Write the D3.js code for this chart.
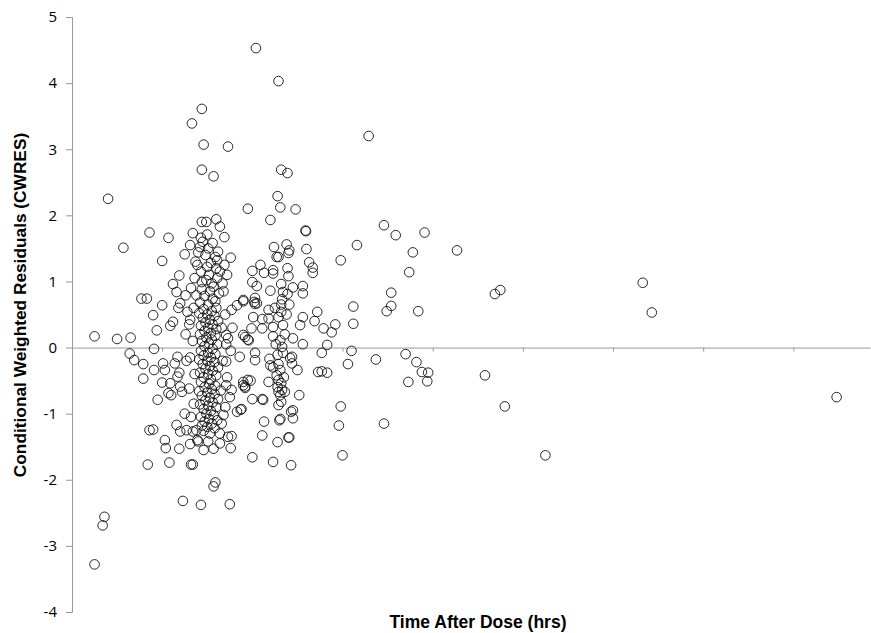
<!DOCTYPE html>
<html>
<head>
<meta charset="utf-8">
<script src="https://cdn.jsdelivr.net/npm/d3@7"></script>
<style>
  html, body { margin: 0; padding: 0; background: #fff; }
  svg { display: block; }
</style>
</head>
<body>
<svg id="chart"></svg>
<script>
// [time after dose (hrs), CWRES]
const earlyPoints = [
  [2.5, 0.17], [2.5, -3.28], [3.4, -2.69], [3.6, -2.56], [4.0, 2.25], [5.0, 0.13],
  [5.7, 1.51], [6.5, 0.15], [6.4, -0.09], [6.9, -0.19], [7.9, -0.25], [7.9, -0.47],
  [7.7, 0.74], [8.3, 0.74], [8.6, 1.74], [9.1, -0.34], [9.0, 0.49], [9.4, 0.26],
  [9.5, -0.79], [8.6, -1.25], [9.0, -1.24], [8.4, -1.77], [10.0, 0.64], [10.0, 1.31],
  [10.7, 1.66], [10.1, -0.24], [10.3, -0.34], [10.0, -0.53], [10.9, -0.54], [10.7, -0.69],
  [11.0, -0.72], [10.3, -1.4], [10.4, -1.52], [10.8, -1.74], [10.9, 0.33], [11.2, 0.39],
  [11.2, 0.96], [11.6, 0.84], [11.9, 1.09], [11.7, -0.14], [11.4, -0.24], [11.7, -0.44],
  [11.9, -0.38], [12.0, -0.59], [12.2, -0.67], [11.6, -1.17], [12.0, -1.27], [11.9, -1.53],
  [12.3, -2.32], [12.0, 0.67], [11.8, 0.6], [12.5, 1.41], [9.1, -0.02]
];

const mainCluster = [
  [13.3, 3.39], [14.4, 3.61], [14.6, 3.07], [17.3, 3.04], [14.4, 2.69], [15.7, 2.59],
  [14.4, 1.9], [14.9, 1.9], [16.0, 1.94], [16.4, 1.83], [13.4, 1.73], [14.3, 1.66],
  [15.0, 1.71], [16.9, 1.67], [13.1, 1.55], [14.2, 1.52], [15.1, 1.5], [14.0, 1.44],
  [15.9, 1.37], [17.6, 1.36], [16.1, 1.32], [13.9, 1.25], [15.0, 1.22], [16.4, 1.15],
  [17.2, 1.1], [13.6, 1.05], [14.4, 0.99], [15.5, 0.97], [16.7, 0.97], [12.6, 0.79],
  [13.8, 0.79], [15.6, 0.74], [17.7, 0.57], [18.3, 0.64], [19.0, 0.7], [12.8, 0.54],
  [13.1, 0.42],
  [14.5, 1.6], [15.6, 1.58], [16.2, 1.45], [14.8, 1.4], [15.4, 1.28], [16.0, 1.2],
  [14.3, 1.15], [15.2, 1.1], [16.1, 1.05], [14.9, 1.02], [15.7, 0.92], [14.4, 0.88],
  [15.3, 0.85], [16.3, 0.82], [14.7, 0.78], [15.9, 0.7], [14.2, 0.68], [15.1, 0.65],
  [16.0, 0.6], [14.6, 0.58], [15.5, 0.55], [14.1, 0.52], [15.0, 0.5], [15.8, 0.48],
  [14.5, 0.45], [15.3, 0.42], [16.2, 0.4], [14.8, 0.38], [15.6, 0.35], [14.3, 0.33],
  [15.1, 0.3], [16.0, 0.28], [14.7, 0.25], [15.4, 0.22], [14.2, 0.2], [15.9, 0.18],
  [14.9, 0.15], [15.5, 0.12], [14.4, 0.1], [15.2, 0.06], [16.1, 0.05], [14.7, 0.02],
  [15.6, -0.02], [14.3, -0.05], [15.1, -0.08], [15.9, -0.1], [14.6, -0.12], [15.4, -0.15],
  [14.1, -0.18], [15.0, -0.2], [15.8, -0.22], [14.5, -0.25], [15.3, -0.28], [16.2, -0.3],
  [14.8, -0.32], [15.6, -0.35], [14.2, -0.38], [15.1, -0.4], [16.0, -0.42], [14.6, -0.45],
  [15.4, -0.48], [14.3, -0.52], [15.2, -0.55], [15.9, -0.58], [14.7, -0.6], [15.5, -0.63],
  [14.1, -0.66], [15.0, -0.68], [15.8, -0.7], [14.4, -0.73], [15.3, -0.76], [16.2, -0.78],
  [14.8, -0.8], [15.6, -0.83], [14.2, -0.86], [15.1, -0.88], [16.0, -0.9], [14.6, -0.93],
  [15.4, -0.96], [14.9, -1.0], [15.7, -1.02], [14.3, -1.05], [15.2, -1.08], [16.1, -1.1],
  [14.7, -1.12], [15.5, -1.15], [14.4, -1.18], [15.0, -1.2], [15.8, -1.22], [14.6, -1.26],
  [15.3, -1.3],
  [13.2, 0.9], [13.5, 0.6], [13.0, 0.35], [13.4, 0.1], [13.1, -0.15], [13.6, -0.4],
  [13.0, -0.62], [13.5, -0.85], [13.2, -1.05], [13.8, -1.25], [16.8, 0.85], [17.0, 0.5],
  [16.6, 0.3], [17.1, 0.05], [16.7, -0.2], [17.2, -0.45], [16.5, -0.65], [17.0, -0.9],
  [16.6, -1.15], [17.3, -1.35], [13.7, 1.3], [16.9, 1.25], [13.9, -1.4], [16.4, -1.45],
  [12.5, -1.0], [12.7, -0.2], [12.6, 0.2], [17.6, -0.05], [17.8, 0.3], [17.5, -0.75],
  [17.1, -0.21], [17.1, -0.57], [17.7, -0.64], [16.8, -1.02], [18.3, -0.97], [18.7, -0.94],
  [17.7, -1.34], [17.6, -1.52], [16.4, -1.3], [13.2, -1.77], [13.4, -1.77], [15.9, -2.04],
  [15.7, -2.1], [14.3, -2.38], [17.5, -2.37], [18.6, -0.14], [19.0, -0.52], [19.5, -0.49],
  [19.2, -0.59], [12.7, -1.25], [13.4, -1.27], [14.0, -1.42], [13.1, -1.46], [14.6, -1.55],
  [15.7, -1.53], [15.1, -1.42], [19.0, 0.19], [19.5, 0.12], [19.9, 0.29], [17.1, 0.19],
  [17.3, 0.14]
];

const secondCluster = [
  [20.4, 4.53], [22.9, 4.03], [23.2, 2.69], [23.9, 2.64], [22.8, 2.29], [19.5, 2.1],
  [23.1, 2.12], [24.8, 2.09], [22.0, 1.93], [25.9, 1.77], [25.95, 1.76], [22.4, 1.52],
  [23.8, 1.56], [24.1, 1.47], [24.0, 1.43], [22.7, 1.37], [22.9, 1.37], [26.0, 1.49],
  [26.3, 1.29], [26.7, 1.21], [26.7, 1.13], [20.9, 1.25], [20.0, 1.16], [21.3, 1.13],
  [22.3, 1.17], [22.3, 1.12], [23.9, 1.2], [24.0, 1.08], [20.0, 0.99], [20.5, 0.93],
  [22.0, 0.86], [23.2, 0.96], [23.4, 0.84], [23.9, 0.81], [24.5, 0.91], [25.6, 0.93],
  [25.6, 0.82], [19.0, 0.72], [20.3, 0.75], [20.5, 0.67], [20.3, 0.66], [20.2, 0.69],
  [23.3, 0.73], [23.2, 0.65], [24.1, 0.65], [21.8, 0.57], [23.2, 0.54], [23.8, 0.5],
  [27.2, 0.54], [20.1, 0.46], [21.1, 0.43], [21.8, 0.44], [22.9, 0.46], [25.6, 0.46],
  [26.9, 0.4], [25.3, 0.34], [21.1, 0.29], [22.3, 0.31], [23.4, 0.34], [19.2, 0.16],
  [19.6, 0.11], [22.3, 0.17], [23.1, 0.11], [24.5, 0.14], [25.6, 0.05], [23.3, 0.01],
  [20.3, -0.08], [20.3, -0.19], [21.9, -0.17], [22.0, -0.27], [22.3, -0.3], [22.8, -0.11],
  [23.4, -0.08], [24.2, -0.16], [24.4, -0.14], [24.4, -0.24], [23.1, -0.34], [22.7, -0.42],
  [22.9, -0.49], [22.8, -0.6], [22.9, -0.67], [23.2, -0.54], [23.3, -0.64], [23.6, -0.67],
  [21.8, -0.52], [23.1, -0.72], [19.8, -0.5], [19.0, -0.57], [19.2, -0.61], [25.0, -0.34],
  [25.2, -0.72], [20.0, -0.78], [21.1, -0.78], [21.2, -0.79], [22.9, -0.87], [23.2, -0.82],
  [24.3, -0.97], [24.5, -1.07], [21.3, -1.12], [23.0, -1.1], [21.1, -1.33], [24.0, -1.36],
  [24.1, -1.36], [22.8, -1.43], [20.0, -1.66], [22.3, -1.73], [24.3, -1.78], [18.8, -0.93],
  [24.5, -0.95], [23.1, -1.08], [22.5, 0.6], [23.6, 0.2], [22.9, -0.25], [23.5, -0.45],
  [22.6, 0.05],
  [27.9, 0.29], [29.2, 0.35], [28.8, 0.23], [28.3, 0.04], [27.7, -0.08], [31.0, -0.05],
  [30.6, -0.25], [27.3, -0.37], [27.7, -0.36], [28.3, -0.38], [29.8, -0.89], [29.6, -1.18],
  [30.0, -1.63], [31.2, 0.62], [31.2, 0.36], [29.8, 1.32], [31.6, 1.55]
];

const latePoints = [
  [32.9, 3.2], [34.6, 1.85], [35.9, 1.7], [39.1, 1.74], [37.8, 1.44], [37.4, 1.14],
  [35.4, 0.83], [35.4, 0.63], [34.9, 0.55], [38.4, 0.55], [33.7, -0.18], [37.0, -0.1],
  [38.2, -0.22], [38.8, -0.37], [39.5, -0.38], [39.4, -0.51], [37.3, -0.52], [34.6, -1.15],
  [42.7, 1.47], [45.8, -0.42], [46.9, 0.81], [47.5, 0.87], [48.0, -0.89], [52.5, -1.63],
  [63.3, 0.98], [64.3, 0.53], [84.8, -0.75]
];

const yTicks = [-4, -3, -2, -1, 0, 1, 2, 3, 4, 5];
const xTicks = [0, 10, 20, 30, 40, 50, 60, 70, 80];
const xMax = 88.5;
const yTitle = 'Conditional Weighted Residuals (CWRES)';
const xTitle = 'Time After Dose (hrs)';

const W = 871, H = 633;
const m = { left: 72, right: 1, top: 17, bottom: 21 };
const C_AXIS = '#9a9a9a';

const svg = d3.select('#chart').attr('width', W).attr('height', H);

const x = d3.scaleLinear().domain([0, xMax]).range([m.left, W - m.right]);
const y = d3.scaleLinear().domain([-4, 5]).range([H - m.bottom, m.top]);

// y axis (labelled, plain hyphen minus like Excel)
const yAxis = svg.append('g')
  .attr('transform', `translate(${m.left},0)`)
  .call(d3.axisLeft(y).tickValues(yTicks).tickSize(6).tickPadding(9).tickFormat(d => String(d)));
yAxis.selectAll('path, line').attr('stroke', C_AXIS);
yAxis.selectAll('text')
  .attr('fill', '#000')
  .style('font-family', '"Open Sans", sans-serif')
  .style('font-size', '15px');

// x axis crosses at y = 0, no labels
const xAxis = svg.append('g')
  .attr('transform', `translate(0,${y(0)})`)
  .call(d3.axisBottom(x).tickValues(xTicks).tickSize(4).tickSizeOuter(0).tickFormat(''));
xAxis.selectAll('path, line').attr('stroke', C_AXIS);

// markers
const allPoints = [...earlyPoints, ...mainCluster, ...secondCluster, ...latePoints];
svg.append('g')
  .selectAll('circle')
  .data(allPoints)
  .join('circle')
  .attr('cx', d => x(d[0]))
  .attr('cy', d => y(d[1]))
  .attr('r', 4.8)
  .attr('fill', 'none')
  .attr('stroke', '#111')
  .attr('stroke-width', 0.9);

// titles
svg.append('text')
  .attr('transform', 'translate(26,305) rotate(-90)')
  .attr('text-anchor', 'middle')
  .style('font-family', '"Liberation Sans", Arial, sans-serif')
  .style('font-weight', 'bold')
  .style('font-size', '17.3px')
  .text(yTitle);

svg.append('text')
  .attr('x', 478)
  .attr('y', 628)
  .attr('text-anchor', 'middle')
  .style('font-family', '"Liberation Sans", Arial, sans-serif')
  .style('font-weight', 'bold')
  .style('font-size', '17.5px')
  .text(xTitle);
</script>
</body>
</html>
